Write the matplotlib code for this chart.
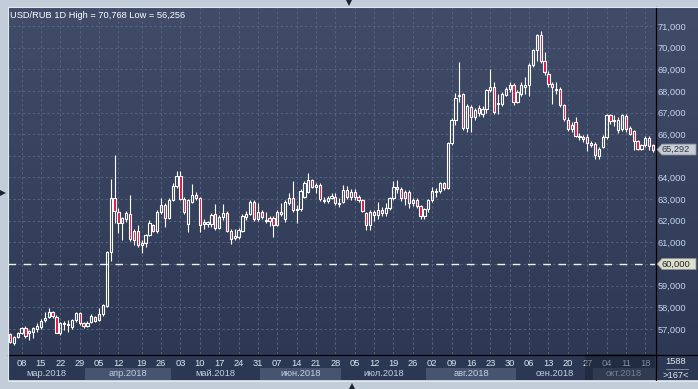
import matplotlib
matplotlib.use('Agg')
import matplotlib.pyplot as plt
import matplotlib.transforms as mtransforms
from matplotlib.colors import LinearSegmentedColormap
from matplotlib.patches import Polygon, Rectangle
import numpy as np
import pandas as pd

# daily USD/RUB bars (one value per bar)
opens = [56.75, 56.37, 56.64, 56.80, 57.06, 56.80, 56.87, 56.98, 57.10, 57.41,
         57.57, 57.77, 57.57, 56.83, 57.21, 57.20, 57.10, 57.41, 57.72, 57.26,
         57.13, 57.34, 57.57, 57.41, 57.69, 58.06, 60.54, 63.07, 62.42, 61.88,
         62.06, 62.30, 61.53, 61.53, 60.86, 60.96, 61.34, 61.80, 61.53, 62.42,
         62.73, 62.14, 62.96, 63.60, 64.07, 62.99, 61.86, 62.88, 63.19, 63.04,
         61.84, 61.86, 61.84, 62.30, 61.65, 62.16, 62.38, 61.54, 61.19, 61.24,
         61.54, 62.16, 62.31, 62.88, 62.07, 62.42, 62.05, 62.11, 62.11, 61.81,
         62.42, 62.07, 62.81, 63.04, 62.50, 62.53, 63.12, 63.35, 63.89, 63.58,
         63.65, 62.90, 62.90, 63.04, 63.12, 62.81, 62.88, 63.42, 63.11, 63.34,
         63.11, 62.96, 62.34, 61.80, 62.39, 62.27, 62.50, 62.34, 62.61, 63.04,
         63.57, 63.47, 63.34, 63.34, 62.81, 62.96, 62.68, 62.24, 62.54, 62.96,
         63.34, 63.38, 63.76, 63.50, 65.58, 66.66, 67.78, 67.84, 66.30, 67.27,
         66.81, 67.23, 66.92, 67.16, 68.04, 68.20, 67.38, 67.41, 67.80, 68.10,
         68.26, 67.49, 67.87, 68.18, 68.26, 69.18, 69.88, 70.57, 69.37, 68.80,
         68.34, 68.03, 68.10, 67.33, 66.64, 66.26, 66.56, 65.87, 65.87, 65.87,
         65.59, 65.55, 64.99, 65.41, 65.87, 66.87, 66.59, 66.18, 66.26, 66.84,
         66.29, 66.13, 65.67, 65.33, 65.49, 65.82, 65.49]
highs = [56.83, 56.67, 56.87, 57.10, 57.15, 56.95, 57.10, 57.26, 57.45, 57.80,
         57.98, 57.85, 57.62, 57.30, 57.35, 57.40, 57.45, 57.80, 57.80, 57.30,
         57.35, 57.70, 57.60, 57.95, 58.15, 60.60, 63.91, 65.04, 62.60, 62.15,
         62.45, 63.20, 61.60, 61.80, 61.10, 61.40, 62.05, 61.85, 62.50, 63.07,
         62.80, 63.07, 63.76, 64.30, 64.30, 63.10, 63.00, 63.70, 63.35, 63.10,
         62.10, 62.00, 62.35, 62.78, 62.25, 62.78, 62.45, 61.60, 61.60, 61.65,
         62.30, 62.45, 62.95, 62.95, 62.80, 62.50, 62.40, 62.20, 62.20, 62.50,
         62.80, 62.95, 63.30, 63.85, 62.75, 63.45, 63.85, 64.19, 63.95, 63.75,
         63.75, 63.10, 63.15, 63.30, 63.30, 63.05, 63.65, 63.60, 63.45, 63.45,
         63.20, 63.00, 62.40, 62.50, 62.50, 62.85, 62.65, 62.80, 63.10, 63.85,
         63.88, 63.55, 63.40, 63.40, 63.05, 63.05, 62.75, 62.60, 63.00, 63.55,
         63.50, 63.80, 63.80, 65.62, 66.75, 67.89, 69.35, 67.90, 67.40, 67.35,
         67.20, 67.35, 67.30, 68.10, 69.01, 68.40, 67.87, 67.95, 68.20, 68.40,
         68.35, 68.05, 68.40, 68.64, 69.30, 69.95, 70.62, 70.768, 69.80, 68.90,
         68.41, 68.41, 68.20, 67.40, 66.80, 66.55, 66.79, 66.05, 65.95, 66.00,
         65.70, 65.65, 65.40, 65.95, 66.95, 66.95, 66.87, 66.80, 66.95, 66.95,
         66.40, 66.20, 65.75, 65.55, 65.90, 65.90, 65.55]
lows = [56.33, 56.256, 56.60, 56.75, 56.60, 56.50, 56.60, 56.85, 56.98, 57.30,
        57.50, 57.50, 56.80, 56.70, 56.95, 56.85, 57.00, 57.30, 57.20, 57.05,
        57.10, 57.25, 57.33, 57.35, 57.60, 58.00, 60.15, 61.88, 61.45, 61.11,
        61.95, 61.05, 60.87, 60.80, 60.53, 60.80, 61.30, 61.48, 61.45, 62.30,
        61.70, 62.10, 62.90, 63.50, 62.95, 62.30, 61.48, 62.80, 62.95, 61.50,
        61.60, 61.70, 61.70, 61.55, 61.60, 62.05, 61.50, 60.93, 61.10, 61.15,
        61.50, 62.05, 62.25, 62.00, 62.00, 62.10, 61.90, 61.75, 61.24, 61.75,
        62.20, 61.95, 62.75, 62.40, 61.91, 62.45, 63.05, 63.30, 63.50, 63.30,
        62.90, 62.80, 62.80, 63.00, 62.75, 62.65, 62.80, 63.00, 62.95, 62.95,
        62.85, 62.40, 61.57, 61.57, 62.00, 62.10, 62.20, 62.20, 62.50, 62.95,
        63.30, 62.90, 62.75, 62.60, 62.70, 62.60, 62.10, 62.10, 62.40, 62.85,
        63.10, 63.30, 63.40, 63.45, 65.50, 66.43, 67.50, 66.20, 66.09, 66.09,
        66.65, 66.85, 66.80, 67.00, 67.95, 66.95, 66.95, 67.30, 67.75, 67.95,
        67.33, 67.45, 67.75, 67.87, 67.77, 69.10, 69.40, 69.30, 68.75, 68.20,
        67.41, 67.87, 67.25, 66.60, 66.15, 66.10, 65.85, 65.75, 65.65, 65.21,
        65.40, 64.87, 64.87, 65.35, 65.80, 66.45, 66.40, 66.05, 66.15, 66.10,
        65.95, 65.25, 65.25, 65.25, 65.40, 65.25, 65.18]
closes = [56.40, 56.64, 56.83, 57.06, 56.67, 56.90, 57.03, 57.13, 57.38, 57.49,
          57.77, 57.60, 56.83, 57.26, 57.29, 57.24, 57.41, 57.72, 57.26, 57.13,
          57.29, 57.61, 57.38, 57.69, 58.10, 60.54, 63.07, 62.45, 61.88, 62.11,
          62.37, 61.14, 61.11, 60.86, 60.99, 61.34, 61.88, 61.53, 62.42, 62.73,
          62.14, 62.96, 63.62, 64.07, 62.99, 62.42, 62.94, 63.19, 63.04, 61.81,
          61.96, 61.92, 62.27, 61.65, 62.16, 62.38, 61.54, 61.16, 61.30, 61.58,
          62.22, 62.31, 62.88, 62.07, 62.42, 62.19, 62.01, 62.01, 61.81, 62.42,
          62.30, 62.88, 63.04, 62.50, 62.55, 63.39, 63.76, 63.89, 63.58, 63.65,
          62.99, 62.96, 63.04, 63.15, 62.81, 62.78, 63.42, 63.11, 63.34, 63.11,
          62.96, 62.45, 61.80, 62.42, 62.27, 62.50, 62.34, 62.61, 63.04, 63.57,
          63.47, 63.07, 63.07, 62.81, 62.96, 62.70, 62.24, 62.54, 62.96, 63.38,
          63.38, 63.76, 63.50, 65.58, 66.66, 67.69, 67.81, 66.30, 67.32, 66.81,
          67.12, 66.96, 67.16, 68.04, 68.20, 67.01, 67.43, 67.87, 68.10, 68.26,
          67.49, 67.95, 68.26, 68.26, 69.18, 69.88, 70.57, 69.37, 68.87, 68.34,
          68.18, 68.10, 67.33, 66.69, 66.26, 66.41, 65.92, 65.92, 65.76, 65.61,
          65.52, 65.02, 65.33, 65.87, 66.87, 66.59, 66.64, 66.64, 66.87, 66.26,
          66.02, 65.67, 65.33, 65.49, 65.82, 65.45, 65.292]

level = 60.0
bars_total = 1588
months_ru = ['янв', 'фев', 'мар', 'апр', 'май', 'июн',
             'июл', 'авг', 'сен', 'окт', 'ноя', 'дек']

W, H = 698, 389
BG_TOP = '#404c68'
BG_BOT = '#2c3853'
GRID = '#57637e'
RED = '#e3103c'
plt.rcParams['font.family'] = ['Liberation Sans', 'DejaVu Sans']
FS = 6.7

dates = pd.bdate_range('2018-03-05', '2018-10-22')
dates = dates.insert(30, pd.Timestamp('2018-04-15'))   # extra bar in the feed
n = len(dates)
x = np.arange(n)
o, h, l, c = map(np.array, (opens, highs, lows, closes))


def fmt(v):
    return f"{v:.3f}".replace('.', ',')


def frac(left, top, right, bottom):
    return [left / W, 1 - bottom / H, (right - left) / W, (bottom - top) / H]


fig = plt.figure(figsize=(W / 100, H / 100), dpi=100, facecolor='#c3cdd9')

# dark gradient background behind plot, price scale and date scale
bg = fig.add_axes(frac(8, 7, W, 380))
cmap = LinearSegmentedColormap.from_list('bg', [BG_TOP, BG_BOT])
bg.imshow(np.linspace(0, 1, 256)[:, None], aspect='auto', cmap=cmap,
          extent=[0, 1, 0, 1])
bg.set_axis_off()

ax = fig.add_axes(frac(8, 7, 655, 354))
ax.set_facecolor('none')
ax.set_xlim(-0.5, n - 0.5)
ax.set_ylim(55.84, 71.88)
for s in ax.spines.values():
    s.set_visible(False)

thursdays = [i for i, d in enumerate(dates) if d.weekday() == 3]
ax.set_xticks(thursdays)
yt = list(range(57, 72))
ax.set_yticks(yt)
# the price tags sit over the 60 and 65 scale labels
ax.set_yticklabels(['' if v in (60, 65) else fmt(v) for v in yt])
ax.yaxis.tick_right()
ax.tick_params(axis='y', length=0, pad=2, labelsize=FS, labelcolor='#c4d5ee')
ax.tick_params(axis='x', length=0, labelbottom=False)
ax.grid(True, color=GRID, lw=0.7, ls=(0, (2.5, 2.5)))
ax.set_axisbelow(True)

ax.axhline(level, color='#eef0f2', lw=1.0, dashes=(5.5, 5.5), zorder=2)

# candles
lo_b = np.minimum(o, c)
hi_b = np.maximum(o, c)
up = c >= o
ax.vlines(x, hi_b, h, color='white', lw=0.8, zorder=3)
ax.vlines(x, l, lo_b, color='white', lw=0.8, zorder=3)
ax.bar(x, hi_b - lo_b, bottom=lo_b, width=0.58,
       color=['none' if u else RED for u in up],
       edgecolor='white', lw=0.8, zorder=4)

# date scale
lab = fig.add_axes(frac(8, 354, 655, 380), sharex=ax)
lab.set_facecolor('none')
lab.set_ylim(0, 26)
lab.set_axis_off()
month_id = np.array([d.month for d in dates])
for k, m in enumerate(sorted(set(month_id))):
    idx = np.where(month_id == m)[0]
    if k % 2 == 1:
        lab.add_patch(Rectangle((idx[0] - 0.5, 0), idx[-1] - idx[0] + 1, 12,
                                color='#47546f', lw=0, zorder=1))
    lab.text((idx[0] + idx[-1]) / 2, 6, months_ru[m - 1] + '.2018',
             ha='center', va='center', fontsize=FS, color='#c3cee0', zorder=2)
for i in thursdays:
    lab.text(i, 17, f"{dates[i].day:02d}", ha='center', va='center',
             fontsize=FS, color='#dde5ef', zorder=2)
lab.add_patch(Rectangle((149 - 0.5, 0), n - 149, 26, color='#141c2c',
                        alpha=0.45, lw=0, zorder=5))

# overlay in pixel coordinates for frame lines and labels
ov = fig.add_axes([0, 0, 1, 1])
ov.set_xlim(0, W)
ov.set_ylim(H, 0)
ov.set_axis_off()
ov.plot([655.5, 655.5], [7, 380], color='black', lw=0.9)
ov.plot([8, W], [354.5, 354.5], color='black', lw=0.9)
ov.plot([7.5, 7.5], [7, 380], color='#e2e8ef', lw=0.8)
ov.plot([8, W], [6.5, 6.5], color='#e2e8ef', lw=0.8)
ov.plot([8, W], [380.5, 380.5], color='#e2e8ef', lw=0.8)

title = f"USD/RUB 1D High = {fmt(h.max())} Low = {fmt(l.min())}"
ov.text(10, 15, title, color='white', fontsize=FS, va='center')

ov.text(676, 362, str(bars_total), color='#dde5ef', fontsize=FS,
        ha='center', va='center')
ov.plot([666, 688], [368.5, 368.5], color='#8d9ab0', lw=0.6)
ov.text(676, 375, f">{n}<", color='#dde5ef', fontsize=FS,
        ha='center', va='center')

# price tags on the scale
tr = mtransforms.blended_transform_factory(ov.transData, ax.transData)
for val, face, txt in [(level, '#dedfc8', '#1d2433'),
                       (c[-1], '#c9cdd5', '#2f3747')]:
    d = 0.25
    ov.add_patch(Polygon([(657, val), (662, val + d), (696, val + d),
                          (696, val - d), (662, val - d)], closed=True,
                         facecolor=face, edgecolor='#8f96a0', lw=0.6,
                         transform=tr, zorder=6))
    ov.text(662, val, fmt(val), color=txt, fontsize=FS, va='center',
            transform=tr, zorder=7)

# small scroll arrows
ov.plot(349, 2.5, marker='v', ms=4.5, color='#1d2332', mew=0)
ov.plot(3, 193, marker='>', ms=4.5, color='#1d2332', mew=0)
ov.plot(352, 385.5, marker='^', ms=4.5, color='#1d2332', mew=0)

fig.savefig('out.png', dpi=100, facecolor=fig.get_facecolor())
